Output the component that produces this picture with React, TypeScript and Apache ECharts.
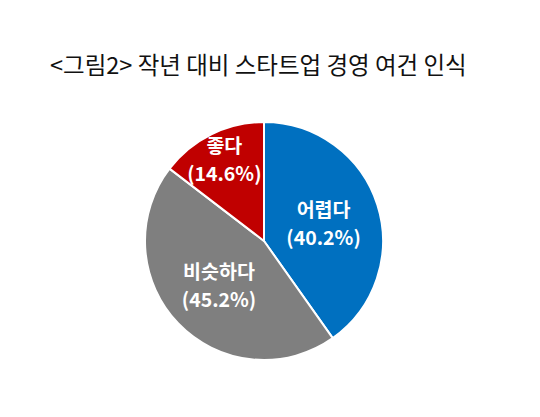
import React, { useEffect, useRef } from "react";
import * as echarts from "echarts";

const categories = ["어렵다", "비슷하다", "좋다"];
const values = [40.2, 45.2, 14.6];
const colors = ["#0070C0", "#7F7F7F", "#C00000"];
const titleText = "<그림2> 작년 대비 스타트업 경영 여건 인식";

export default function App() {
  const ref = useRef<HTMLDivElement>(null);
  useEffect(() => {
    document.body.style.margin = "0";
    const chart = echarts.init(ref.current!, null, { renderer: "svg" });
    const data = categories.map((name, i) => ({
      name,
      value: values[i],
      itemStyle: { color: colors[i] },
      label: i === 2 ? { offset: [-12, -26] } : undefined,
    }));
    chart.setOption({
      animation: false,
      backgroundColor: "#ffffff",
      title: {
        text: titleText,
        left: 45,
        top: 47,
        textStyle: {
          fontFamily: "Noto Sans CJK KR",
          fontSize: 23.5,
          fontWeight: "normal",
          color: "#111111",
        },
      },
      series: [
        {
          type: "pie",
          center: [264, 241],
          radius: [0, 119],
          startAngle: 90,
          clockwise: true,
          data,
          itemStyle: { borderColor: "#ffffff", borderWidth: 2 },
          label: {
            show: true,
            position: "inside",
            formatter: (p: any) => `${p.name}\n(${p.value.toFixed(1)}%)`,
            color: "#ffffff",
            fontFamily: "Noto Sans CJK KR",
            fontWeight: "bold",
            fontSize: 19.5,
            lineHeight: 28,
          },
          labelLine: { show: false },
          emphasis: { disabled: true },
        },
      ],
    });
    return () => chart.dispose();
  }, []);
  return <div ref={ref} style={{ width: 540, height: 417 }} />;
}
